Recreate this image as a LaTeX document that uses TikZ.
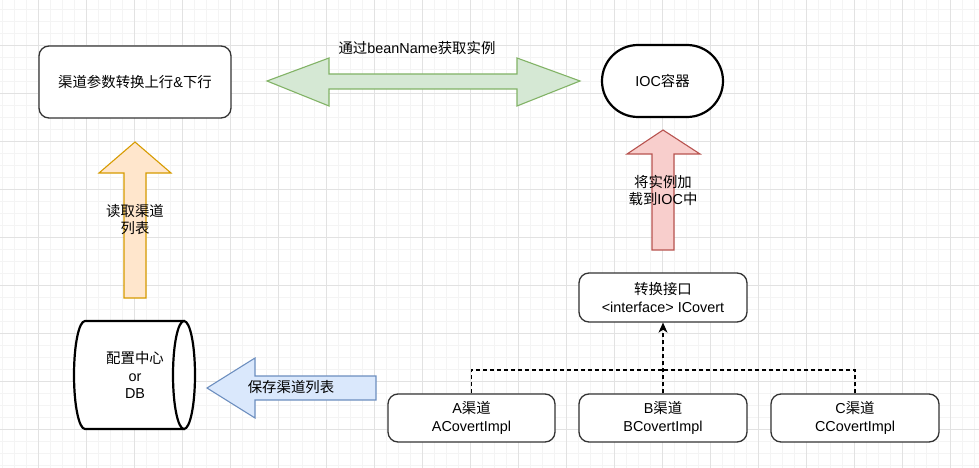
\documentclass[tikz,border=0pt]{standalone}
\usepackage{fontspec}
\setmainfont{Liberation Sans}
\newfontfamily\cjk{Noto Sans CJK SC}
\usetikzlibrary{arrows.meta}
\definecolor{gridmajor}{HTML}{E2E2E2}
\definecolor{gridminor}{HTML}{F4F4F4}
\definecolor{boxline}{HTML}{333333}
\definecolor{gfill}{HTML}{D5E8D4}\definecolor{gline}{HTML}{82B366}
\definecolor{ofill}{HTML}{FFE6CC}\definecolor{oline}{HTML}{D79B00}
\definecolor{rfill}{HTML}{F8CECC}\definecolor{rline}{HTML}{B85450}
\definecolor{bfill}{HTML}{DAE8FC}\definecolor{bline}{HTML}{6C8EBF}
\tikzset{
  every node/.style={font=\fontsize{14.4}{17.5}\selectfont, align=center, text=black},
  procbox/.style={draw=boxline, line width=1.3pt, fill=white, rounded corners=10pt, inner sep=0pt},
  thickshape/.style={draw=black, line width=2.2pt, fill=white},
  blockarrow/.style={line width=1.1pt},
  label/.style={inner sep=0pt},
  realize/.style={draw=black, line width=1.2pt, dash pattern=on 4pt off 3pt},
}
\begin{document}
\begin{tikzpicture}[x=1pt,y=-1pt]
\useasboundingbox (0,0) rectangle (979,468);
\fill[white] (0,0) rectangle (979,468);
% grid
\foreach \gx in {2.3,14.3,...,979} \draw[gridminor, line width=0.8pt] (\gx,0) -- (\gx,468);
\foreach \gy in {9.5,21.5,...,468} \draw[gridminor, line width=0.8pt] (0,\gy) -- (979,\gy);
\foreach \gx in {38.3,86.3,...,979} \draw[gridmajor, line width=0.9pt] (\gx,0) -- (\gx,468);
\foreach \gy in {45.5,93.5,...,468} \draw[gridmajor, line width=0.9pt] (0,\gy) -- (979,\gy);

% main boxes
\node[procbox, minimum width=192pt, minimum height=72pt] (conv) at (135,82) {{\cjk 渠道参数转换上行}\&{\cjk 下行}};
\node[thickshape, rounded corners=36pt, minimum width=121pt, minimum height=72pt, inner sep=0pt] (ioc) at (662.5,81) {IOC{\cjk 容器}};
\node[procbox, minimum width=168pt, minimum height=49pt] (iface) at (663,297.5) {{\cjk 转换接口}\\<interface> ICovert};
\node[procbox, minimum width=167pt, minimum height=48pt] (implA) at (471.5,418) {A{\cjk 渠道}\\ACovertImpl};
\node[procbox, minimum width=168pt, minimum height=48pt] (implB) at (663,418) {B{\cjk 渠道}\\BCovertImpl};
\node[procbox, minimum width=168pt, minimum height=48pt] (implC) at (855,418) {C{\cjk 渠道}\\CCovertImpl};

% cylinder (config centre / DB)
\draw[draw=black, line width=2.2pt, fill=white]
  (85,321) -- (184,321) -- (184,429) -- (85,429)
  .. controls (78.9,429) and (74,404.8) .. (74,375)
  .. controls (74,345.2) and (78.9,321) .. (85,321) -- cycle;
\draw[draw=black, line width=2.2pt, fill=white]
  (184,321) .. controls (190.1,321) and (195,345.2) .. (195,375)
  .. controls (195,404.8) and (190.1,429) .. (184,429)
  .. controls (177.9,429) and (173,404.8) .. (173,375)
  .. controls (173,345.2) and (177.9,321) .. (184,321) -- cycle;
\node[label] (db) at (135,375) {{\cjk 配置中心}\\or\\DB};

% green double block arrow
\draw[blockarrow, draw=gline, fill=gfill]
  (267,81) -- (329,58) -- (329,74) -- (517,74) -- (517,58) -- (580,81)
  -- (517,106) -- (517,89) -- (329,89) -- (329,106) -- cycle;
\node[label] (lblget) at (417,48) {{\cjk 通过}beanName{\cjk 获取实例}};

% red up block arrow
\draw[blockarrow, draw=rline, fill=rfill]
  (663,130) -- (700,154) -- (674,154) -- (674,250) -- (652,250) -- (652,154) -- (627,154) -- cycle;
\node[label] (lblload) at (663,190.5) {{\cjk 将实例加}\\{\cjk 载到}IOC{\cjk 中}};

% orange up block arrow
\draw[blockarrow, draw=oline, fill=ofill]
  (135,142) -- (171,173) -- (146,173) -- (146,298) -- (124,298) -- (124,173) -- (99,173) -- cycle;
\node[label] (lblread) at (135,219.5) {{\cjk 读取渠道}\\{\cjk 列表}};

% blue left block arrow
\draw[blockarrow, draw=bline, fill=bfill]
  (207,388) -- (255,358) -- (255,376) -- (376,376) -- (376,400) -- (255,400) -- (255,418) -- cycle;
\node[label] (lblsave) at (291,387.5) {{\cjk 保存渠道列表}};

% realization connectors
\coordinate (joint) at (663,370);
\draw[realize] (implA.north) |- (joint);
\draw[realize] (implC.north) |- (joint);
\draw[realize, -{Stealth[length=10pt, width=9pt, inset=3pt]}] (implB.north) -- (iface.south);
\end{tikzpicture}
\end{document}
